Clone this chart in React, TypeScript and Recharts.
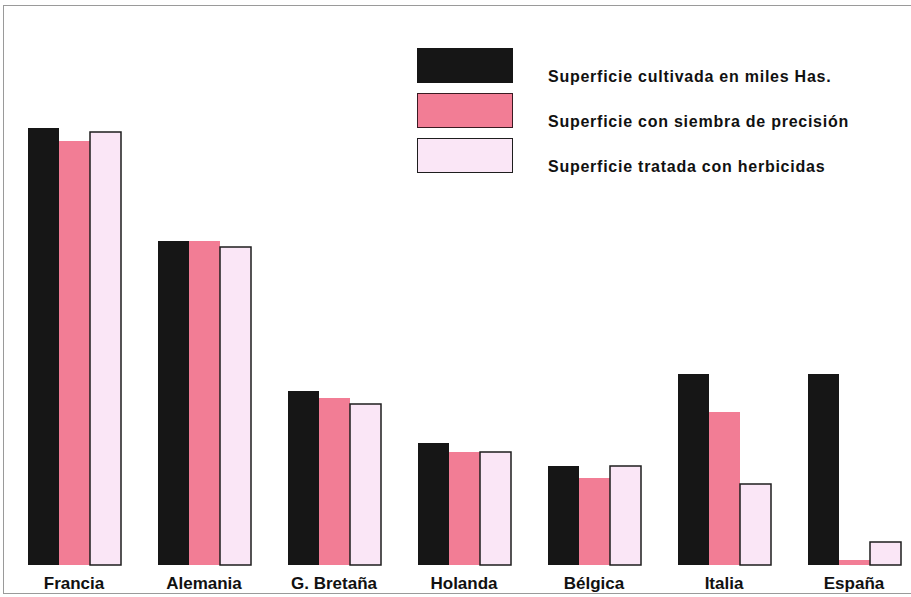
import { BarChart, Bar, XAxis, YAxis } from 'recharts'

// Superficies por país (unidades relativas)
const paises = ['Francia', 'Alemania', 'G. Bretaña', 'Holanda', 'Bélgica', 'Italia', 'España']
const cultivada = [437, 324, 174, 122, 99, 191, 191]
const siembraPrecision = [424, 324, 167, 113, 87, 153, 5]
const herbicidas = [433, 318, 161, 113, 99, 81, 23]

const series = [
  { key: 'cultivada', label: 'Superficie cultivada en miles Has.', fill: '#161616', stroke: '#161616' },
  { key: 'siembra', label: 'Superficie con siembra de precisión', fill: '#f27d95', stroke: '#3a1a22' },
  { key: 'herbicidas', label: 'Superficie tratada con herbicidas', fill: '#fae6f6', stroke: '#1e1e1e' },
]

const data = paises.map((pais, i) => ({
  pais,
  cultivada: cultivada[i],
  siembra: siembraPrecision[i],
  herbicidas: herbicidas[i],
}))

const font = '"Liberation Sans", Arial, sans-serif'

export default function App() {
  return (
    <div style={{ position: 'absolute', left: 0, top: 0, width: 911, height: 597, overflow: 'hidden', background: '#fff' }}>
      <div
        style={{
          position: 'absolute', left: 3, top: 5, width: 920, height: 587,
          borderTop: '1px solid #9a9a9a', borderLeft: '1px solid #9a9a9a', borderBottom: '1px solid #9a9a9a',
        }}
      />
      <BarChart
        width={919}
        height={597}
        data={data}
        margin={{ top: 125, right: 0, left: 9, bottom: 2 }}
        barGap={0}
        barSize={31}
      >
        <XAxis
          dataKey="pais"
          axisLine={false}
          tickLine={false}
          tickMargin={6}
          interval={0}
          tick={{ fill: '#111', fontSize: 17, fontWeight: 700, fontFamily: font }}
        />
        <YAxis hide domain={[0, 440]} />
        {series.map(s => (
          <Bar
            key={s.key}
            dataKey={s.key}
            fill={s.fill}
            stroke={s.key === 'herbicidas' ? s.stroke : 'none'}
            strokeWidth={1.5}
            isAnimationActive={false}
          />
        ))}
      </BarChart>
      <div style={{ position: 'absolute', left: 417, top: 48 }}>
        {series.map((s, i) => (
          <div key={s.key} style={{ position: 'absolute', left: 0, top: i * 45, width: 440, height: 36 }}>
            <div
              style={{
                position: 'absolute', left: 0, top: 0, width: 96, height: 35, boxSizing: 'border-box',
                background: s.fill, border: `1.5px solid ${s.stroke}`,
              }}
            />
            <span
              style={{
                position: 'absolute', left: 131, top: 20, fontFamily: font, fontWeight: 700,
                fontSize: 16, letterSpacing: 0.75, color: '#111', whiteSpace: 'nowrap', lineHeight: '18px',
              }}
            >
              {s.label}
            </span>
          </div>
        ))}
      </div>
    </div>
  )
}
